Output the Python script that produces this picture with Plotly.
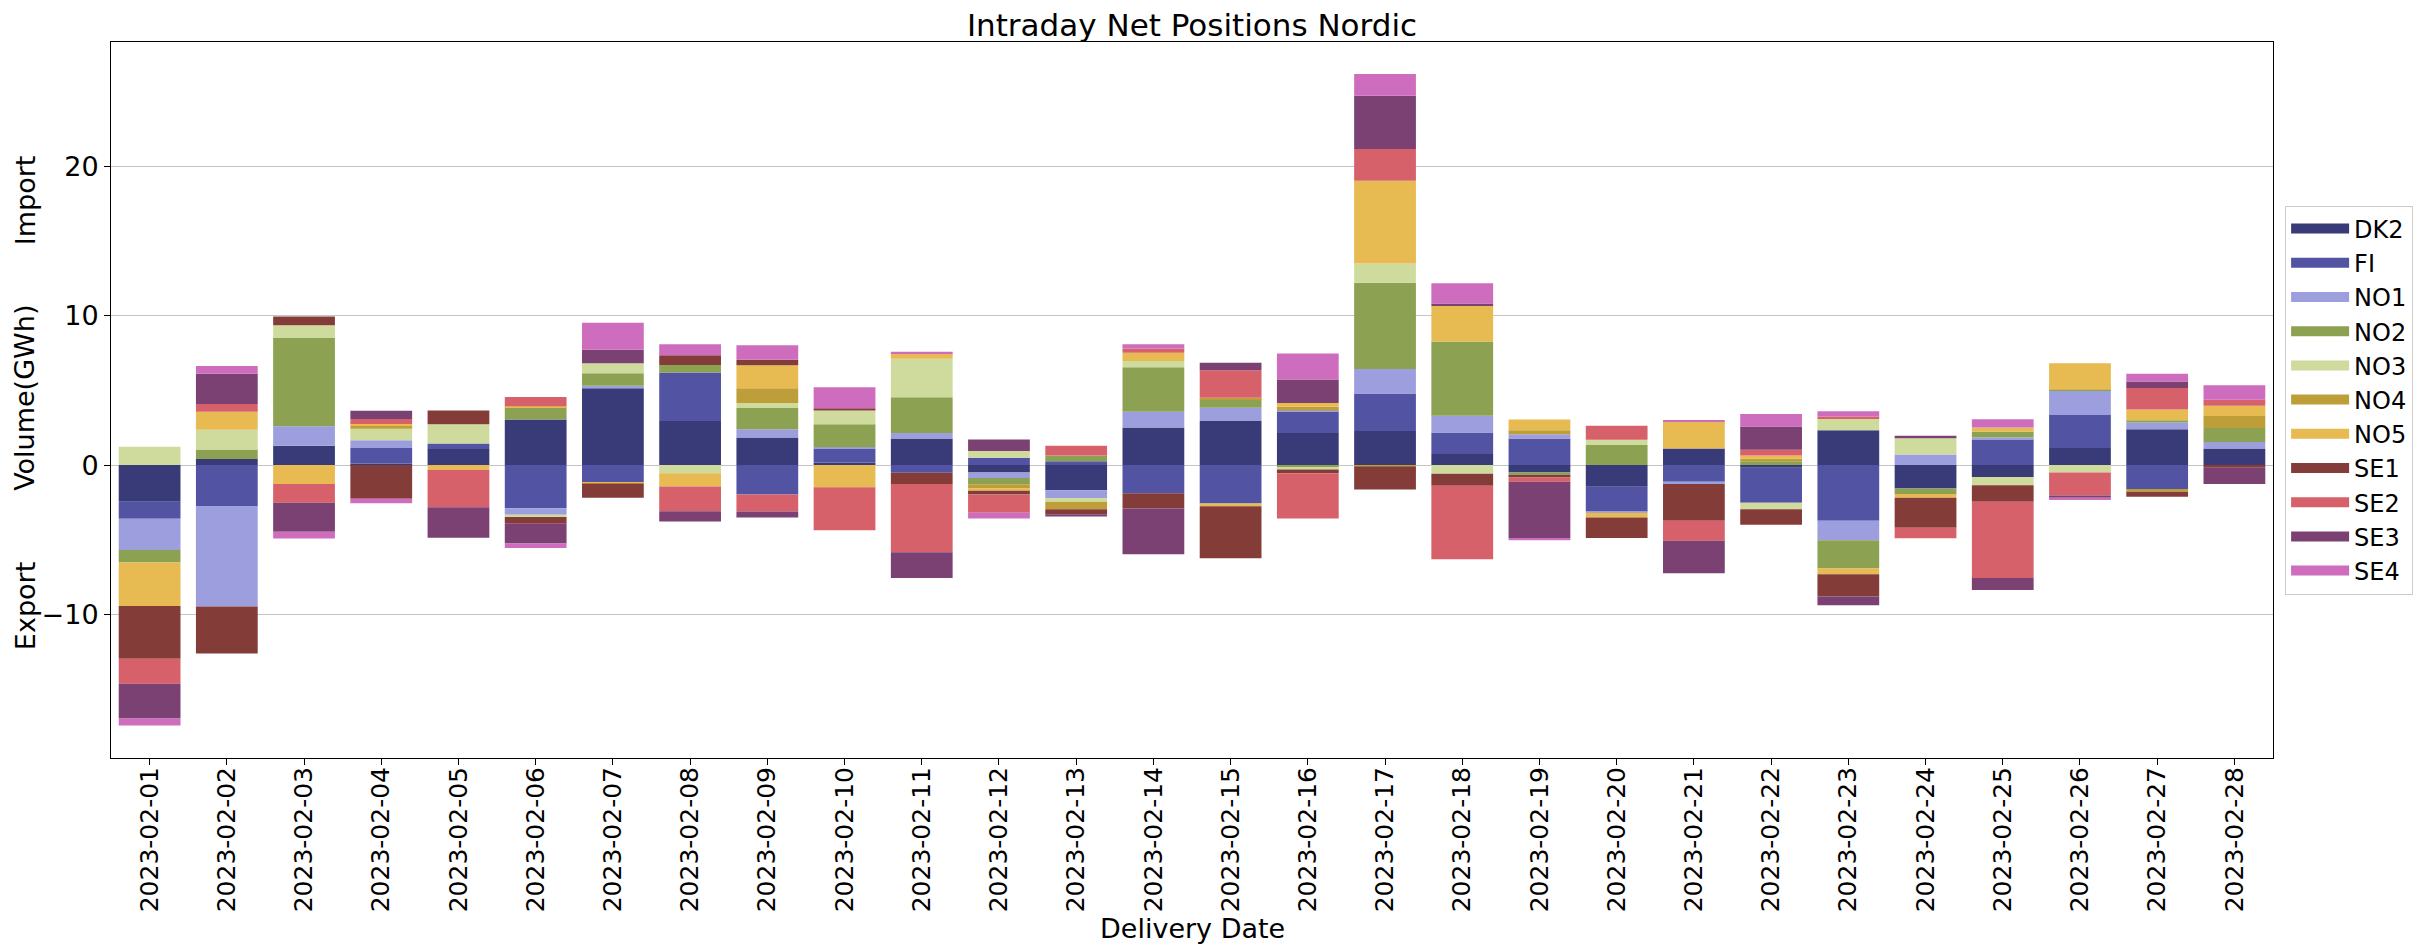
import plotly.graph_objects as go

dates = ["2023-02-%02d" % d for d in range(1, 29)]

zones = ["DK2", "FI", "NO1", "NO2", "NO3", "NO4", "NO5", "SE1", "SE2", "SE3", "SE4"]
colors = ["#393b79", "#5254a3", "#9c9ede", "#8ca252", "#cedb9c", "#bd9e39",
          "#e7ba52", "#843c39", "#d6616b", "#7b4173", "#ce6dbd"]

# values per delivery date, columns in order of `zones`
DK2 = [-2.46, 0.40, 1.29, 0.10, 1.08, 3.05, 5.14, 2.95, 1.85, 0.18, 1.78, -0.49, -1.69, 2.52,
       2.95, 2.15, 2.28, 0.74, -0.49, -1.45, 1.11, -0.18, 2.34, -1.57, -0.80, 1.14, 2.40, 1.11]
FI = [-1.14, -2.77, 0.00, 1.04, 0.37, -2.89, -1.14, 3.26, -1.97, 0.92, -0.52, 0.49, 0.25, -1.88,
      -2.58, 1.42, 2.52, 1.45, 1.78, -1.66, -1.11, -2.34, -3.72, 0.00, 1.72, 2.22, -1.60, 0.00]
NO1 = [-2.09, -6.71, 1.32, 0.52, 0.00, -0.43, 0.18, 0.00, 0.55, 0.09, 0.37, -0.37, -0.52, 1.05,
       0.89, 0.09, 1.63, 1.11, 0.28, -0.09, -0.15, 0.00, -1.32, 0.71, 0.12, 1.63, 0.46, 0.43]
NO2 = [-0.83, 0.65, 5.90, 0.00, 0.00, 0.83, 0.83, 0.49, 1.42, 1.54, 2.40, -0.43, 0.40, 2.98,
       0.58, -0.18, 5.78, 4.98, -0.22, 1.35, 0.00, 0.25, -1.88, -0.37, 0.40, 0.06, 0.15, 0.95]
NO3 = [1.23, 1.32, 0.86, 0.77, 1.29, -0.15, 0.68, -0.55, 0.34, 0.92, 2.58, 0.46, -0.25, 0.43,
       0.00, -0.12, 1.29, -0.58, 0.00, 0.34, 0.00, -0.43, 0.74, 1.08, -0.55, -0.49, 0.00, 0.00]
NO4 = [0.00, 0.00, 0.00, 0.20, 0.00, 0.00, 0.00, 0.00, 0.98, 0.00, 0.00, -0.28, -0.49, 0.00,
       0.09, 0.25, -0.09, 0.00, 0.28, 0.00, 0.00, 0.18, 0.00, 0.00, 0.00, 0.00, -0.18, 0.80]
NO5 = [-2.92, 1.20, -1.26, 0.12, -0.31, 0.06, -0.09, -0.89, 1.54, -1.48, 0.37, -0.15, 0.00, 0.55,
       -0.18, 0.25, 5.55, 2.37, 0.71, -0.31, 1.78, 0.22, -0.40, -0.25, 0.28, 1.78, 0.71, 0.68]
SE1 = [-3.54, -3.14, 0.58, -2.25, 0.92, -0.46, -0.95, 0.65, 0.37, 0.15, -0.74, -0.25, -0.34, -1.02,
       -3.48, -0.25, -1.54, -0.80, -0.12, -1.38, -2.46, -1.05, -1.48, -2.00, -1.11, 0.00, -0.34, -0.18]
SE2 = [-1.66, 0.52, -1.26, 0.34, -2.52, 0.62, 0.00, -1.66, -1.14, -2.89, -4.58, -1.23, 0.65, 0.28,
       1.85, -3.02, 2.12, -4.92, -0.28, 0.95, -1.35, 0.37, 0.18, -0.71, -5.11, -1.54, 1.45, 0.40]
SE3 = [-2.34, 2.03, -1.94, 0.55, -2.03, -1.32, 0.89, -0.68, -0.40, 0.00, -1.72, 0.77, -0.15, -3.08,
       0.49, 1.57, 3.57, 0.18, -3.78, 0.00, -2.18, 1.57, -0.58, 0.18, -0.80, -0.15, 0.43, -1.08]
SE4 = [-0.46, 0.52, -0.46, -0.31, 0.00, -0.31, 1.82, 0.74, 0.98, 1.42, 0.09, -0.37, 0.00, 0.28,
       0.00, 1.75, 1.45, 1.35, -0.15, 0.00, 0.09, 0.83, 0.34, 0.00, 0.55, -0.15, 0.52, 0.98]

series = [DK2, FI, NO1, NO2, NO3, NO4, NO5, SE1, SE2, SE3, SE4]

FONT = "DejaVu Sans"

fig = go.Figure()
for name, vals, col in zip(zones, series, colors):
    fig.add_trace(go.Bar(x=dates, y=vals, name=name, legendgroup=name, showlegend=False,
                         marker=dict(color=col, line=dict(width=0))))
# legend swatches (wide rectangles like the reference)
for name, col in zip(zones, colors):
    fig.add_trace(go.Scatter(x=[dates[0]], y=[None], mode="lines", name=name, legendgroup=name,
                             line=dict(color=col, width=16), hoverinfo="skip"))

# page body has an 8px margin: figure is 2419x936 drawn at (8, 8)
fig.update_layout(
    width=2419, height=936, autosize=False,
    barmode="relative", bargap=0.2,
    plot_bgcolor="white", paper_bgcolor="white",
    margin=dict(l=103, r=154, t=34, b=186),
    font=dict(family=FONT, size=25, color="black"),
    title=dict(text="Intraday Net Positions Nordic", x=0.5, xref="paper", xanchor="center",
               y=0.993, yanchor="top", yref="container", pad=dict(t=0, b=0),
               font=dict(family=FONT, size=31, color="black")),
    legend=dict(x=1.0056, xanchor="left", y=0.5, yanchor="middle",
                font=dict(family=FONT, size=24), bordercolor="#cccccc", borderwidth=1,
                bgcolor="white", tracegroupgap=0, itemwidth=58),
    showlegend=True,
)
fig.update_xaxes(type="category", tickangle=-90, ticks="outside", ticklen=6, tickcolor="black",
                 showline=True, mirror=True, linecolor="black", linewidth=1, automargin=False,
                 showgrid=False, tickfont=dict(family=FONT, size=25), range=[-0.5, 27.5],
                 ticklabelstandoff=-8)
fig.update_yaxes(range=[-19.62, 28.34], tickvals=[-10, 0, 10, 20], ticks="outside", ticklen=6,
                 tickcolor="black", showline=True, mirror=True, linecolor="black", linewidth=1,
                 showgrid=True, gridcolor="#c4c4c4", gridwidth=1, zeroline=False, automargin=False,
                 tickfont=dict(family=FONT, size=27))

# axis titles
for txt, yy in [("Export", 0.212), ("Volume(GWh)", 0.503), ("Import", 0.779)]:
    fig.add_annotation(text=txt, xref="paper", yref="paper", x=-0.0398, y=yy,
                       xanchor="center", yanchor="middle", textangle=-90, showarrow=False,
                       font=dict(family=FONT, size=27, color="black"))
fig.add_annotation(text="Delivery Date", xref="paper", yref="paper", x=0.5, y=-0.2388,
                   xanchor="center", yanchor="middle", showarrow=False,
                   font=dict(family=FONT, size=27, color="black"))

fig.write_html("out.html")
